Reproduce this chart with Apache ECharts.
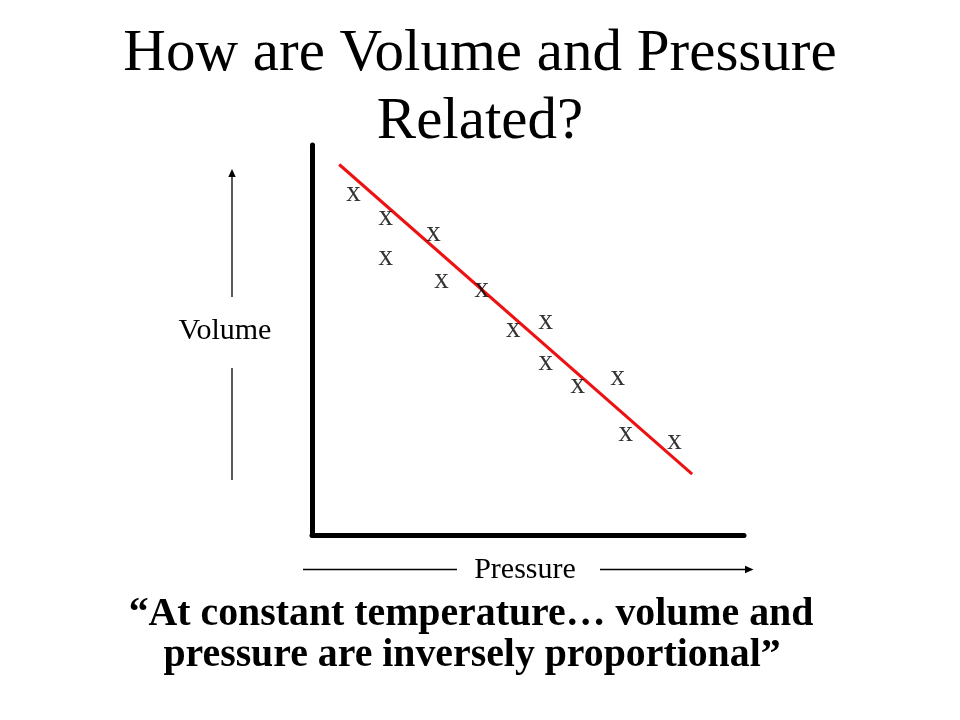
<!DOCTYPE html>
<html>
<head>
<meta charset="utf-8">
<script src="https://cdn.jsdelivr.net/npm/echarts@6/dist/echarts.min.js"></script>
<style>
  html, body { margin: 0; padding: 0; background: #fff; }
  #chart { width: 960px; height: 720px; }
</style>
</head>
<body>
<div id="chart"></div>
<script>
// Measured observations (Pressure, Volume) in arbitrary units 0..10
const pressureValues = [0.96, 1.71, 2.81, 1.71, 3.00, 3.93, 4.66, 5.41, 5.41, 6.15, 7.08, 7.26, 8.39];
const volumeValues   = [8.67, 8.06, 7.65, 7.03, 6.44, 6.21, 5.19, 5.40, 4.36, 3.76, 3.96, 2.52, 2.33];
// Trend line end points
const trendPressure = [0.63, 8.80];
const trendVolume   = [9.50, 1.56];

const titleLines = ['How are Volume and Pressure', 'Related?'];
const quoteLines = ['\u201cAt constant temperature\u2026 volume and', 'pressure are inversely proportional\u201d'];
const xName = 'Pressure';
const yName = 'Volume';

const serif = "'Liberation Serif', 'Times New Roman', serif";

const points = pressureValues.map((p, i) => [p, volumeValues[i]]);
const trend = trendPressure.map((p, i) => [p, trendVolume[i]]);

const chart = echarts.init(document.getElementById('chart'));
chart.setOption({
  backgroundColor: '#ffffff',
  animation: false,
  grid: { left: 312, right: 216, top: 145, bottom: 185 },
  xAxis: {
    type: 'value', min: 0, max: 10,
    axisLine: { show: true, lineStyle: { color: '#000', width: 5 } },
    axisTick: { show: false }, axisLabel: { show: false }, splitLine: { show: false }
  },
  yAxis: {
    type: 'value', min: 0, max: 10,
    axisLine: { show: true, lineStyle: { color: '#000', width: 5 } },
    axisTick: { show: false }, axisLabel: { show: false }, splitLine: { show: false }
  },
  series: [
    {
      type: 'line',
      data: trend,
      symbol: 'none',
      lineStyle: { color: '#ee1111', width: 3 },
      z: 2
    },
    {
      type: 'scatter',
      data: points,
      symbolSize: 0,
      itemStyle: { color: 'transparent' },
      label: {
        show: true,
        position: 'inside',
        formatter: 'x',
        color: '#000',
        fontFamily: serif,
        fontSize: 29,
        offset: [0, -3]
      },
      z: 3
    }
  ],
  graphic: [
    { type: 'text', x: 480, y: 54, style: { text: titleLines[0], fontFamily: serif, fontSize: 59, fill: '#000', textAlign: 'center', textVerticalAlign: 'middle' } },
    { type: 'text', x: 480, y: 122, style: { text: titleLines[1], fontFamily: serif, fontSize: 59, fill: '#000', textAlign: 'center', textVerticalAlign: 'middle' } },
    { type: 'text', x: 471, y: 615, style: { text: quoteLines[0], fontFamily: serif, fontSize: 39.8, fontWeight: 'bold', fill: '#000', textAlign: 'center', textVerticalAlign: 'middle' } },
    { type: 'text', x: 472, y: 656, style: { text: quoteLines[1], fontFamily: serif, fontSize: 39.8, fontWeight: 'bold', fill: '#000', textAlign: 'center', textVerticalAlign: 'middle' } },
    { type: 'text', x: 225, y: 331, style: { text: yName, fontFamily: serif, fontSize: 30, fill: '#000', textAlign: 'center', textVerticalAlign: 'middle' } },
    { type: 'text', x: 525, y: 570, style: { text: xName, fontFamily: serif, fontSize: 30, fill: '#000', textAlign: 'center', textVerticalAlign: 'middle' } },
    // Volume arrow
    { type: 'line', shape: { x1: 232, y1: 480, x2: 232, y2: 368 }, style: { stroke: '#000', lineWidth: 1.3 } },
    { type: 'line', shape: { x1: 232, y1: 297, x2: 232, y2: 175 }, style: { stroke: '#000', lineWidth: 1.3 } },
    { type: 'polygon', shape: { points: [[232, 169], [228.3, 177], [235.7, 177]] }, style: { fill: '#000' } },
    // Pressure arrow
    { type: 'line', shape: { x1: 303, y1: 569.5, x2: 457, y2: 569.5 }, style: { stroke: '#000', lineWidth: 1.3 } },
    { type: 'line', shape: { x1: 600, y1: 569.5, x2: 747, y2: 569.5 }, style: { stroke: '#000', lineWidth: 1.3 } },
    { type: 'polygon', shape: { points: [[753.5, 569.5], [745, 565.8], [745, 573.2]] }, style: { fill: '#000' } }
  ]
});
</script>
</body>
</html>
